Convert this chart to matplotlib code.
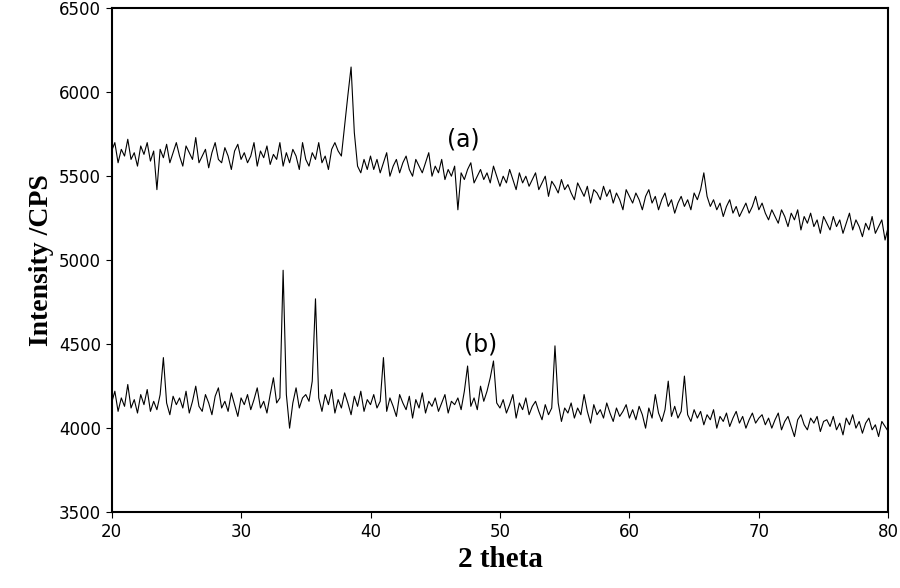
import numpy as np
import matplotlib
matplotlib.use('Agg')
from matplotlib import pyplot as plt

# 2 theta from 20 to 80 in steps of 0.25
two_theta = np.arange(20, 80.001, 0.25)

# curve (a)
intensity_a = [
    5650, 5700, 5580, 5660, 5620, 5720, 5600, 5640, 5560, 5680, 5630, 5700, 5590, 5650, 5420, 5660, 5610, 5690, 5580, 5640, 5700,
    5620, 5560, 5680, 5640, 5600, 5730, 5580, 5620, 5660, 5550, 5640, 5700, 5600, 5580, 5670, 5620, 5540, 5650, 5690, 5600,
    5640, 5580, 5620, 5700, 5560, 5650, 5610, 5680, 5570, 5630, 5600, 5700, 5560, 5640, 5580, 5660, 5620, 5540, 5700, 5600,
    5560, 5640, 5600, 5700, 5580, 5620, 5540, 5660, 5700, 5650, 5620, 5800, 5980, 6150, 5760, 5560, 5520, 5600, 5540, 5620,
    5540, 5600, 5520, 5580, 5640, 5500, 5560, 5600, 5520, 5580, 5620, 5540, 5500, 5600, 5560, 5520, 5580, 5640, 5500, 5560,
    5520, 5600, 5480, 5540, 5500, 5560, 5300, 5520, 5480, 5540, 5580, 5460, 5500, 5540, 5480, 5520, 5460, 5560, 5500, 5440,
    5500, 5460, 5540, 5480, 5420, 5520, 5460, 5500, 5440, 5480, 5520, 5420, 5460, 5500, 5380, 5470, 5440, 5400, 5480, 5420,
    5450, 5400, 5360, 5460, 5420, 5380, 5440, 5340, 5420, 5400, 5360, 5440, 5380, 5420, 5340, 5400, 5360, 5300, 5420, 5380,
    5340, 5400, 5360, 5300, 5380, 5420, 5340, 5380, 5300, 5360, 5400, 5320, 5360, 5280, 5340, 5380, 5320, 5360, 5300, 5400,
    5360, 5420, 5520, 5380, 5320, 5360, 5300, 5340, 5260, 5320, 5360, 5280, 5320, 5260, 5300, 5340, 5280, 5320, 5380, 5300,
    5340, 5280, 5240, 5300, 5260, 5220, 5300, 5260, 5200, 5280, 5240, 5300, 5180, 5260, 5220, 5280, 5200, 5240, 5160, 5260,
    5220, 5180, 5260, 5200, 5240, 5160, 5220, 5280, 5180, 5240, 5200, 5140, 5220, 5180, 5260, 5160, 5200, 5240, 5120, 5200,
]

# curve (b)
intensity_b = [
    4150, 4220, 4100, 4180, 4130, 4260, 4120, 4170, 4090, 4200, 4140, 4230, 4100, 4160, 4110, 4200, 4420, 4150, 4080, 4190, 4140,
    4180, 4120, 4220, 4090, 4160, 4250, 4130, 4100, 4200, 4150, 4080, 4190, 4240, 4120, 4160, 4100, 4210, 4140, 4070, 4180,
    4140, 4200, 4110, 4170, 4240, 4120, 4160, 4090, 4200, 4300, 4150, 4180, 4940, 4200, 4000, 4150, 4240, 4120, 4180, 4200,
    4160, 4280, 4770, 4180, 4100, 4200, 4140, 4230, 4090, 4170, 4120, 4210, 4150, 4080, 4190, 4130, 4220, 4100, 4170, 4140,
    4200, 4120, 4160, 4420, 4100, 4180, 4130, 4070, 4200, 4150, 4110, 4190, 4060, 4170, 4120, 4210, 4090, 4160, 4130, 4180,
    4100, 4150, 4200, 4090, 4160, 4140, 4180, 4110, 4220, 4370, 4130, 4180, 4110, 4250, 4160, 4220, 4300, 4400, 4150, 4120,
    4170, 4090, 4140, 4200, 4060, 4150, 4110, 4180, 4080, 4130, 4160, 4100, 4050, 4140, 4080, 4120, 4490, 4150, 4040, 4120,
    4090, 4150, 4060, 4120, 4080, 4200, 4100, 4030, 4140, 4080, 4110, 4060, 4150, 4090, 4040, 4120, 4070, 4100, 4140, 4060,
    4110, 4050, 4130, 4080, 4000, 4120, 4060, 4200, 4090, 4040, 4110, 4280, 4070, 4130, 4060, 4100, 4310, 4080, 4040, 4110,
    4060, 4100, 4020, 4080, 4050, 4110, 4000, 4070, 4040, 4090, 4010, 4060, 4100, 4030, 4070, 4000, 4050, 4090, 4030, 4060,
    4080, 4020, 4060, 4000, 4050, 4090, 3990, 4040, 4070, 4010, 3950, 4050, 4080, 4020, 3990, 4060, 4030, 4070, 3980, 4040,
    4050, 4010, 4070, 3990, 4030, 3960, 4060, 4020, 4080, 4000, 4040, 3970, 4030, 4060, 3990, 4020, 3950, 4040, 4010, 3980,
]

fig = plt.figure(figsize=(9, 5.88), dpi=100)
ax = fig.add_axes([0.124, 0.129, 0.863, 0.857])

ax.plot(two_theta, intensity_a, color='k', lw=0.8)
ax.plot(two_theta, intensity_b, color='k', lw=0.8)

ax.text(47.2, 5720, '(a)', fontsize=17, ha='center', va='center')
ax.text(48.5, 4500, '(b)', fontsize=17, ha='center', va='center')

ax.set_xlim(20, 80)
ax.set_ylim(3500, 6500)
ax.set_xticks(range(20, 81, 10))
ax.set_yticks(range(3500, 6501, 500))
ax.tick_params(direction='out', labelsize=12, length=4)
for s in ax.spines.values():
    s.set_linewidth(1.5)

ax.set_xlabel('2 theta', family='Liberation Serif', fontweight='bold', fontsize=21)
ax.set_ylabel('Intensity /CPS', family='Liberation Serif', fontweight='bold', fontsize=20)

fig.savefig('out.png', dpi=100)
